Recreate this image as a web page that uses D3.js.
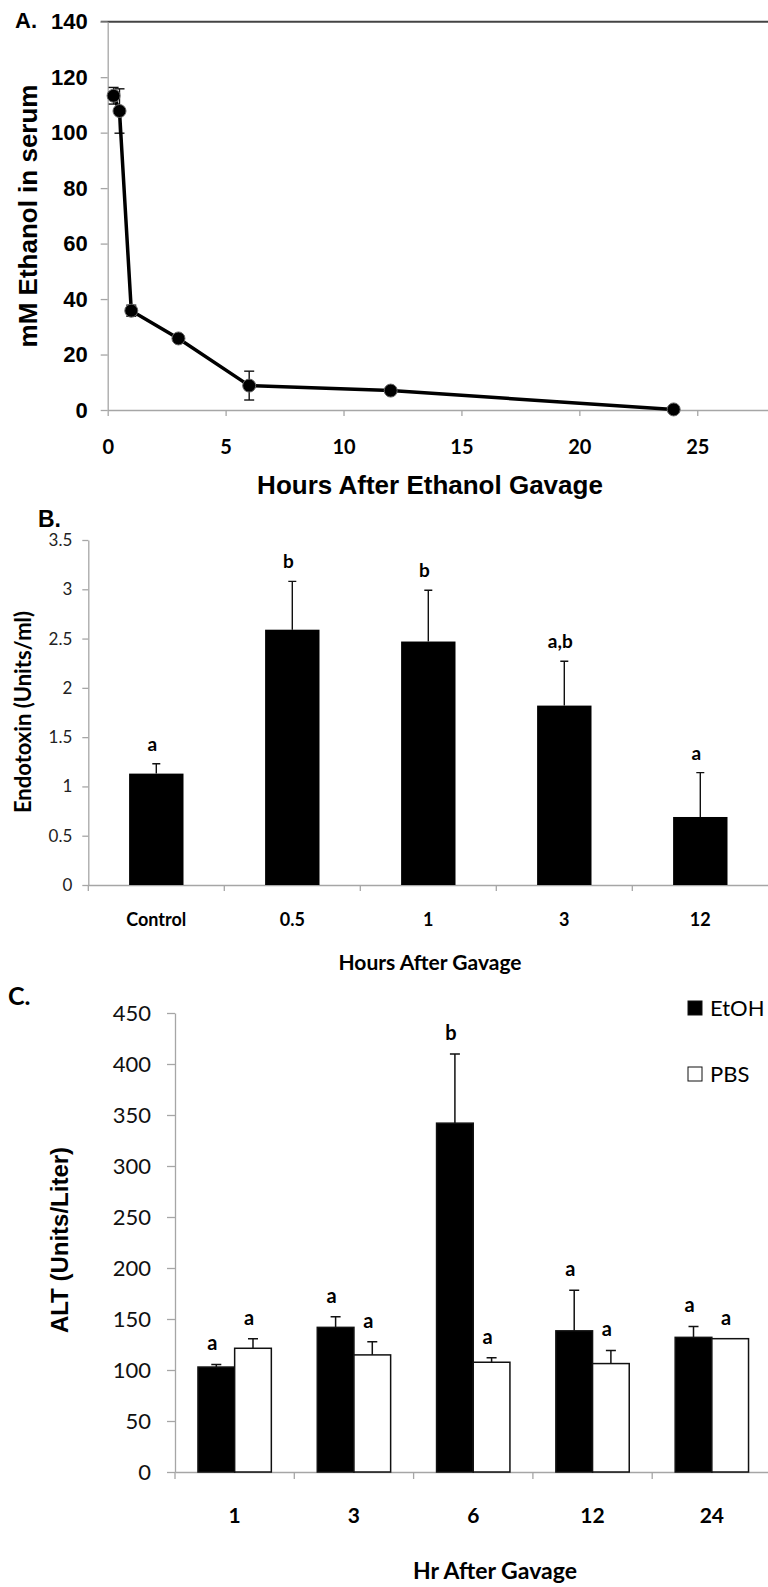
<!DOCTYPE html>
<html>
<head>
<meta charset="utf-8">
<script src="https://cdn.jsdelivr.net/npm/d3@7"></script>
<style>
  body { margin: 0; background: #fff; }
  svg { display: block; }
</style>
</head>
<body>
<div id="chart"></div>
<script>
// Panel A data
const hoursA = [0.25, 0.5, 1, 3, 6, 12, 24];
const ethanol = [113.3, 107.8, 35.8, 25.8, 8.8, 7.0, 0.2];
const ethanolErr = [3, 8, 2, 1.2, 5.2, 1, 0.5];
const xTicksA = [0, 5, 10, 15, 20, 25];
const yTicksA = [0, 20, 40, 60, 80, 100, 120, 140];

// Panel B data
const categoriesB = ["Control", "0.5", "1", "3", "12"];
const endotoxin = [1.13, 2.59, 2.47, 1.82, 0.69];
const endotoxinErr = [0.10, 0.49, 0.52, 0.45, 0.45];
const lettersB = ["a", "b", "b", "a,b", "a"];
const yTicksB = [0, 0.5, 1, 1.5, 2, 2.5, 3, 3.5];

// Panel C data
const hoursC = ["1", "3", "6", "12", "24"];
const seriesC = ["EtOH", "PBS"];
const altEtOH = [102.9, 141.8, 342.0, 138.4, 132.0];
const altEtOHErr = [2.5, 10.3, 67.7, 39.9, 10.7];
const altPBS = [121.3, 114.8, 107.6, 106.3, 130.7];
const altPBSErr = [9.4, 12.9, 4.3, 12.9, 0];
const lettersEtOH = ["a", "a", "b", "a", "a"];
const lettersPBS = ["a", "a", "a", "a", "a"];
const yTicksC = [0, 50, 100, 150, 200, 250, 300, 350, 400, 450];

const W = 768, H = 1587;
const arial = "'Liberation Sans', Arial, sans-serif";
const calibri = "Lato, 'Open Sans', sans-serif";
const axisGrey = "#a6a6a6";

const svg = d3.select("#chart")
    .append("svg")
    .attr("width", W)
    .attr("height", H);

function styleAxis(g, font, size, weight, color) {
    g.select(".domain").attr("stroke", axisGrey).attr("stroke-width", 1.3);
    g.selectAll(".tick line").attr("stroke", axisGrey).attr("stroke-width", 1.3);
    g.selectAll(".tick text")
        .style("font-family", font)
        .style("font-size", size + "px")
        .style("font-weight", weight)
        .attr("fill", color);
}

// ---------------- Panel A ----------------
const xA = d3.scaleLinear().domain([0, 28]).range([107.7, 768]);
const yA = d3.scaleLinear().domain([0, 140]).range([410, 21.7]);

// top border line
svg.append("line")
    .attr("x1", xA(0) - 7).attr("x2", W)
    .attr("y1", yA(140)).attr("y2", yA(140))
    .attr("stroke", "#444").attr("stroke-width", 2);

const yAxisA = svg.append("g")
    .attr("transform", `translate(${xA(0)},0)`)
    .call(d3.axisLeft(yA).tickValues(yTicksA).tickSize(7).tickSizeOuter(0).tickPadding(13));
styleAxis(yAxisA, arial, 22, 700, "#000");

const xAxisA = svg.append("g")
    .attr("transform", `translate(0,${yA(0)})`)
    .call(d3.axisBottom(xA).tickValues(xTicksA).tickSize(6).tickSizeOuter(0));
styleAxis(xAxisA, calibri, 20, 700, "#000");
xAxisA.selectAll(".tick text").attr("y", 37).attr("dy", "0.35em");

// error bars
const ptsA = hoursA.map((h, i) => ({ h: h, v: ethanol[i], e: ethanolErr[i] }));
const errA = svg.append("g").attr("stroke", "#111").attr("stroke-width", 1.4);
ptsA.forEach(d => {
    errA.append("line")
        .attr("x1", xA(d.h)).attr("x2", xA(d.h))
        .attr("y1", yA(d.v - d.e)).attr("y2", yA(d.v + d.e));
    [d.v - d.e, d.v + d.e].forEach(t => {
        errA.append("line")
            .attr("x1", xA(d.h) - 5).attr("x2", xA(d.h) + 5)
            .attr("y1", yA(t)).attr("y2", yA(t));
    });
});

svg.append("path")
    .datum(ptsA)
    .attr("fill", "none")
    .attr("stroke", "#000")
    .attr("stroke-width", 3.5)
    .attr("d", d3.line().x(d => xA(d.h)).y(d => yA(d.v)));

svg.selectAll(".markerA")
    .data(ptsA)
    .enter()
    .append("circle")
    .attr("class", "markerA")
    .attr("cx", d => xA(d.h))
    .attr("cy", d => yA(d.v))
    .attr("r", 6.5)
    .attr("fill", "#000")
    .attr("stroke", "#666")
    .attr("stroke-width", 1);

svg.append("text")
    .attr("x", 15).attr("y", 28)
    .style("font-family", arial).style("font-size", "22px").style("font-weight", 700)
    .text("A.");

svg.append("text")
    .attr("transform", "translate(37,216) rotate(-90)")
    .attr("text-anchor", "middle")
    .style("font-family", arial).style("font-size", "26px").style("font-weight", 700)
    .text("mM Ethanol in serum");

svg.append("text")
    .attr("x", 430).attr("y", 494)
    .attr("text-anchor", "middle")
    .style("font-family", arial).style("font-size", "26px").style("font-weight", 700)
    .text("Hours After Ethanol Gavage");

// ---------------- Panel B ----------------
const xB = d3.scaleBand()
    .domain(categoriesB)
    .range([88.3, 768.3])
    .paddingInner(0.6)
    .paddingOuter(0.3);
const yB = d3.scaleLinear().domain([0, 3.5]).range([885, 540]);

const yAxisB = svg.append("g")
    .attr("transform", `translate(${xB.range()[0]},0)`)
    .call(d3.axisLeft(yB).tickValues(yTicksB).tickSize(6).tickSizeOuter(0).tickPadding(10).tickFormat(d3.format("")));
styleAxis(yAxisB, calibri, 17, 400, "#222");

const xAxisB = svg.append("g")
    .attr("transform", `translate(0,${yB(0)})`)
    .call(d3.axisBottom(xB).tickSize(0).tickSizeOuter(0));
styleAxis(xAxisB, calibri, 18, 700, "#000");
xAxisB.selectAll(".tick text").attr("y", 35).attr("dy", "0.35em");

// boundary ticks
d3.range(categoriesB.length).forEach(i => {
    const x = xB.range()[0] + i * xB.step();
    svg.append("line")
        .attr("x1", x).attr("x2", x)
        .attr("y1", yB(0)).attr("y2", yB(0) + 6)
        .attr("stroke", axisGrey).attr("stroke-width", 1.3);
});

const dataB = categoriesB.map((c, i) => ({ c: c, v: endotoxin[i], e: endotoxinErr[i], l: lettersB[i] }));

svg.selectAll(".errB")
    .data(dataB)
    .enter()
    .append("path")
    .attr("class", "errB")
    .attr("fill", "none")
    .attr("stroke", "#111")
    .attr("stroke-width", 1.4)
    .attr("d", d => {
        const cx = xB(d.c) + xB.bandwidth() / 2;
        return `M${cx},${yB(d.v)}V${yB(d.v + d.e)}M${cx - 4},${yB(d.v + d.e)}H${cx + 4}`;
    });

svg.selectAll(".barB")
    .data(dataB)
    .enter()
    .append("rect")
    .attr("class", "barB")
    .attr("x", d => xB(d.c))
    .attr("width", xB.bandwidth())
    .attr("y", d => yB(d.v))
    .attr("height", d => yB(0) - yB(d.v))
    .attr("fill", "#000");

svg.selectAll(".labelB")
    .data(dataB)
    .enter()
    .append("text")
    .attr("class", "labelB")
    .attr("x", d => xB(d.c) + xB.bandwidth() / 2 - 4)
    .attr("y", d => yB(d.v + d.e) - 13)
    .attr("text-anchor", "middle")
    .style("font-family", calibri).style("font-size", "19px").style("font-weight", 700)
    .text(d => d.l);

svg.append("text")
    .attr("x", 38).attr("y", 527)
    .style("font-family", arial).style("font-size", "23px").style("font-weight", 700)
    .text("B.");

svg.append("text")
    .attr("transform", "translate(31,712) rotate(-90)")
    .attr("text-anchor", "middle")
    .style("font-family", calibri).style("font-size", "22px").style("font-weight", 700)
    .text("Endotoxin (Units/ml)");

svg.append("text")
    .attr("x", 430).attr("y", 963)
    .attr("dy", "0.35em")
    .attr("text-anchor", "middle")
    .style("font-family", calibri).style("font-size", "21px").style("font-weight", 700)
    .text("Hours After Gavage");

// ---------------- Panel C ----------------
const xC = d3.scaleBand()
    .domain(hoursC)
    .range([175, 771.5])
    .paddingInner(0.385)
    .paddingOuter(0.1925);
const xSub = d3.scaleBand().domain(seriesC).range([0, xC.bandwidth()]);
const yC = d3.scaleLinear().domain([0, 450]).range([1472, 1013]);

const yAxisC = svg.append("g")
    .attr("transform", `translate(${xC.range()[0]},0)`)
    .call(d3.axisLeft(yC).tickValues(yTicksC).tickSize(8).tickSizeOuter(0).tickPadding(16));
styleAxis(yAxisC, calibri, 22, 400, "#111");

const xAxisC = svg.append("g")
    .attr("transform", `translate(0,${yC(0)})`)
    .call(d3.axisBottom(xC).tickSize(0).tickSizeOuter(0));
styleAxis(xAxisC, calibri, 21, 700, "#000");
xAxisC.selectAll(".tick text").attr("y", 44).attr("dy", "0.35em");

d3.range(hoursC.length).forEach(i => {
    const x = xC.range()[0] + i * xC.step();
    svg.append("line")
        .attr("x1", x).attr("x2", x)
        .attr("y1", yC(0)).attr("y2", yC(0) + 7)
        .attr("stroke", axisGrey).attr("stroke-width", 1.3);
});

const dataC = [];
hoursC.forEach((h, i) => {
    dataC.push({ h: h, s: "EtOH", v: altEtOH[i], e: altEtOHErr[i], l: lettersEtOH[i] });
    dataC.push({ h: h, s: "PBS", v: altPBS[i], e: altPBSErr[i], l: lettersPBS[i] });
});
const cxC = d => xC(d.h) + xSub(d.s) + xSub.bandwidth() / 2;

svg.selectAll(".errC")
    .data(dataC.filter(d => d.e > 0))
    .enter()
    .append("path")
    .attr("class", "errC")
    .attr("fill", "none")
    .attr("stroke", "#111")
    .attr("stroke-width", 1.5)
    .attr("d", d => `M${cxC(d)},${yC(d.v)}V${yC(d.v + d.e)}M${cxC(d) - 5},${yC(d.v + d.e)}H${cxC(d) + 5}`);

svg.selectAll(".barC")
    .data(dataC)
    .enter()
    .append("rect")
    .attr("class", "barC")
    .attr("x", d => xC(d.h) + xSub(d.s))
    .attr("width", xSub.bandwidth())
    .attr("y", d => yC(d.v))
    .attr("height", d => yC(0) - yC(d.v))
    .attr("fill", d => d.s === "EtOH" ? "#000" : "#fff")
    .attr("stroke", "#111")
    .attr("stroke-width", 1.5);

svg.selectAll(".labelC")
    .data(dataC)
    .enter()
    .append("text")
    .attr("class", "labelC")
    .attr("x", d => cxC(d) - 4)
    .attr("y", d => yC(d.v + d.e) - 14)
    .attr("text-anchor", "middle")
    .style("font-family", calibri).style("font-size", "20px").style("font-weight", 700)
    .text(d => d.l);

svg.append("text")
    .attr("x", 8).attr("y", 1005)
    .style("font-family", calibri).style("font-size", "25px").style("font-weight", 700)
    .text("C.");

svg.append("text")
    .attr("transform", "translate(68,1240) rotate(-90)")
    .attr("text-anchor", "middle")
    .style("font-family", arial).style("font-size", "24px").style("font-weight", 700)
    .text("ALT (Units/Liter)");

svg.append("text")
    .attr("x", 495).attr("y", 1571)
    .attr("dy", "0.35em")
    .attr("text-anchor", "middle")
    .style("font-family", calibri).style("font-size", "23px").style("font-weight", 700)
    .text("Hr After Gavage");

// legend
const legend = svg.selectAll(".legendC")
    .data(seriesC)
    .enter()
    .append("g")
    .attr("class", "legendC")
    .attr("transform", (d, i) => `translate(688,${1008 + i * 66})`);
legend.append("rect")
    .attr("x", 0).attr("y", -7)
    .attr("width", 14).attr("height", 14)
    .attr("fill", d => d === "EtOH" ? "#000" : "#fff")
    .attr("stroke", "#111")
    .attr("stroke-width", 1);
legend.append("text")
    .attr("x", 22).attr("y", 0)
    .attr("dy", "0.35em")
    .style("font-family", calibri).style("font-size", "22px")
    .text(d => d);
</script>
</body>
</html>
